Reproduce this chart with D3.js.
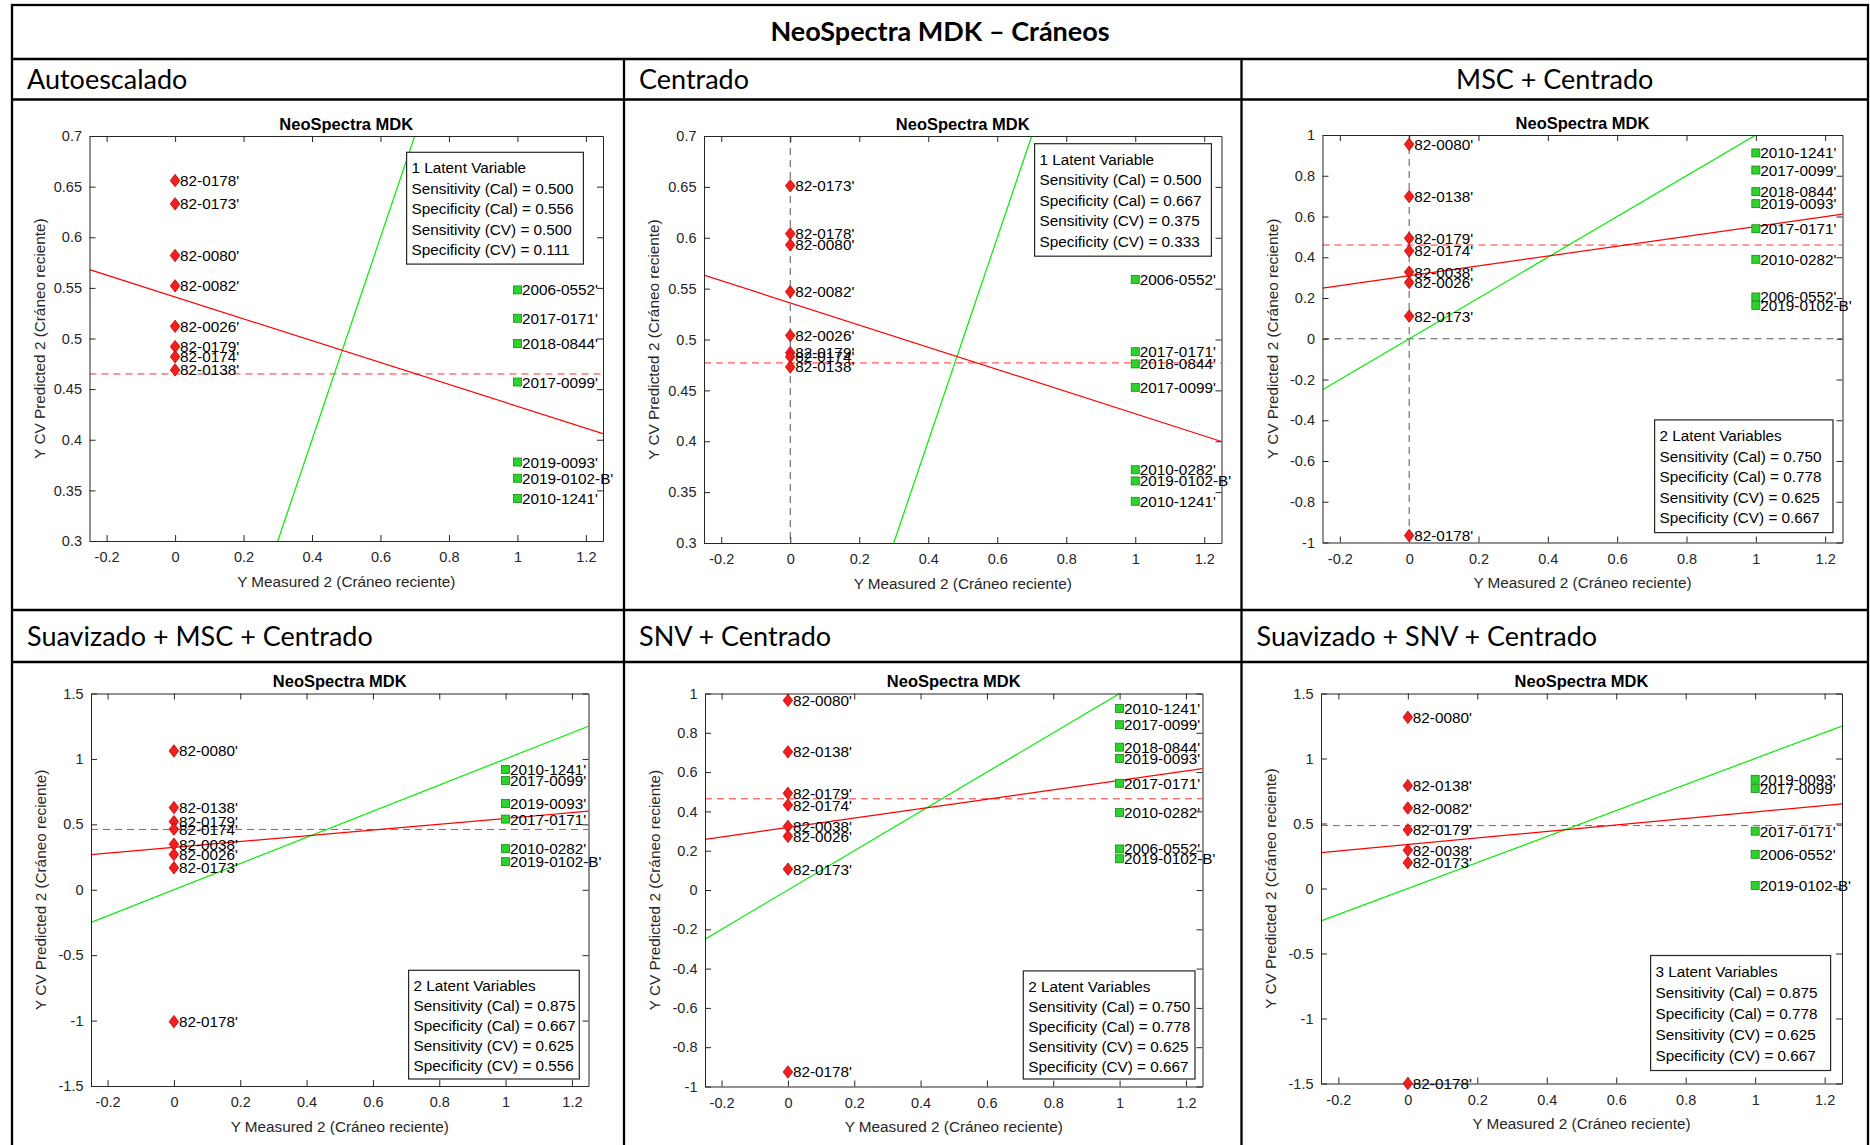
<!DOCTYPE html>
<html>
<head>
<meta charset="utf-8">
<title>NeoSpectra MDK – Cráneos</title>
<script src="https://cdn.jsdelivr.net/npm/d3@7"></script>
<style>
    body { margin: 0; background: #fff; }
    svg { display: block; }
</style>
</head>
<body>
<div id="chart"></div>
<script>

    // ---- data ----
    var mainTitle = "NeoSpectra MDK – Cráneos";
    var plotTitle = "NeoSpectra MDK";
    var panelNames = ["Autoescalado", "Centrado", "MSC + Centrado",
        "Suavizado + MSC + Centrado", "SNV + Centrado", "Suavizado + SNV + Centrado"];
    var xLabel = "Y Measured 2 (Cráneo reciente)";
    var yLabel = "Y CV Predicted 2 (Cráneo reciente)";

    var latentVars = ["1 Latent Variable", "1 Latent Variable", "2 Latent Variables",
        "2 Latent Variables", "2 Latent Variables", "3 Latent Variables"];
    var sensCal = ["0.500", "0.500", "0.750", "0.875", "0.750", "0.875"];
    var specCal = ["0.556", "0.667", "0.778", "0.667", "0.778", "0.778"];
    var sensCV  = ["0.500", "0.375", "0.625", "0.625", "0.625", "0.625"];
    var specCV  = ["0.111", "0.333", "0.667", "0.556", "0.667", "0.667"];

    // red fit line (predicted = intercept + slope * measured) and the dashed threshold
    var fitIntercept = [0.541, 0.536, 0.309, 0.324, 0.318, 0.339];
    var fitSlope     = [-0.108, -0.109, 0.242, 0.221, 0.240, 0.250];
    var threshold    = [0.465, 0.477, 0.460, 0.461, 0.464, 0.484];

    var xDomain = [-0.25, 1.25];
    var xTicks = [-0.2, 0, 0.2, 0.4, 0.6, 0.8, 1, 1.2];
    var yDomains = [[0.3, 0.7], [0.3, 0.7], [-1, 1], [-1.5, 1.5], [-1, 1], [-1.5, 1.5]];
    var yTicks = [
        [0.3, 0.35, 0.4, 0.45, 0.5, 0.55, 0.6, 0.65, 0.7],
        [0.3, 0.35, 0.4, 0.45, 0.5, 0.55, 0.6, 0.65, 0.7],
        [-1, -0.8, -0.6, -0.4, -0.2, 0, 0.2, 0.4, 0.6, 0.8, 1],
        [-1.5, -1, -0.5, 0, 0.5, 1, 1.5],
        [-1, -0.8, -0.6, -0.4, -0.2, 0, 0.2, 0.4, 0.6, 0.8, 1],
        [-1.5, -1, -0.5, 0, 0.5, 1, 1.5]
    ];

    // samples measured 0 (red diamonds) and measured 1 (green squares): [label, predicted]
    var autoOld = [["82-0178'", 0.656], ["82-0173'", 0.633], ["82-0080'", 0.582], ["82-0082'", 0.552],
        ["82-0026'", 0.512], ["82-0179'", 0.492], ["82-0174'", 0.482], ["82-0138'", 0.469]];
    var autoNew = [["2006-0552'", 0.548], ["2017-0171'", 0.520], ["2018-0844'", 0.495], ["2017-0099'", 0.457],
        ["2019-0093'", 0.378], ["2019-0102-B'", 0.362], ["2010-1241'", 0.342]];

    var centOld = [["82-0173'", 0.651], ["82-0178'", 0.604], ["82-0080'", 0.593], ["82-0082'", 0.547],
        ["82-0026'", 0.504], ["82-0179'", 0.487], ["82-0174'", 0.483], ["82-0138'", 0.473]];
    var centNew = [["2006-0552'", 0.559], ["2017-0171'", 0.488], ["2018-0844'", 0.476], ["2017-0099'", 0.453],
        ["2010-0282'", 0.372], ["2019-0102-B'", 0.361], ["2010-1241'", 0.341]];

    var mscOld = [["82-0080'", 0.954], ["82-0138'", 0.698], ["82-0179'", 0.493], ["82-0174'", 0.431],
        ["82-0038'", 0.327], ["82-0026'", 0.276], ["82-0173'", 0.111], ["82-0178'", -0.966]];
    var mscNew = [["2010-1241'", 0.912], ["2017-0099'", 0.828], ["2018-0844'", 0.722], ["2019-0093'", 0.663],
        ["2017-0171'", 0.540], ["2010-0282'", 0.390], ["2006-0552'", 0.205], ["2019-0102-B'", 0.164]];

    var smscOld = [["82-0080'", 1.061], ["82-0138'", 0.628], ["82-0179'", 0.521], ["82-0174'", 0.463],
        ["82-0038'", 0.348], ["82-0026'", 0.269], ["82-0173'", 0.168], ["82-0178'", -1.008]];
    var smscNew = [["2010-1241'", 0.920], ["2017-0099'", 0.835], ["2019-0093'", 0.660], ["2017-0171'", 0.540],
        ["2010-0282'", 0.314], ["2019-0102-B'", 0.215]];

    var snvOld = [["82-0080'", 0.965], ["82-0138'", 0.703], ["82-0179'", 0.492], ["82-0174'", 0.432],
        ["82-0038'", 0.324], ["82-0026'", 0.273], ["82-0173'", 0.106], ["82-0178'", -0.926]];
    var snvNew = [["2010-1241'", 0.924], ["2017-0099'", 0.841], ["2018-0844'", 0.727], ["2019-0093'", 0.669],
        ["2017-0171'", 0.543], ["2010-0282'", 0.395], ["2006-0552'", 0.209], ["2019-0102-B'", 0.159]];

    var ssnvOld = [["82-0080'", 1.317], ["82-0138'", 0.791], ["82-0082'", 0.619], ["82-0179'", 0.451],
        ["82-0038'", 0.295], ["82-0173'", 0.198], ["82-0178'", -1.50]];
    var ssnvNew = [["2019-0093'", 0.840], ["2017-0099'", 0.770], ["2017-0171'", 0.441], ["2006-0552'", 0.263],
        ["2019-0102-B'", 0.023]];

    var oldSets = [autoOld, centOld, mscOld, smscOld, snvOld, ssnvOld];
    var newSets = [autoNew, centNew, mscNew, smscNew, snvNew, ssnvNew];

    // ---- layout ----
    var W = 1870, H = 1145;
    var AXFONT = "'Liberation Sans', Arial, Helvetica, sans-serif";
    var DOCFONT = "Lato, 'Open Sans', sans-serif";

    var colEdges = [12, 624, 1241.5, 1868];
    var headerRows = [[59, 99.5], [610, 662]];
    var headerAlign = ["start", "start", "middle", "start", "start", "start"];

    var plotBox = [
        {x0: 89.5, x1: 603,    y0: 136,   y1: 541},
        {x0: 704,  x1: 1221.5, y0: 136,   y1: 543},
        {x0: 1322.5, x1: 1842.5, y0: 135, y1: 542.5},
        {x0: 91,   x1: 588.5,  y0: 693.5, y1: 1086},
        {x0: 705,  x1: 1202.5, y0: 693.5, y1: 1086.5},
        {x0: 1321, x1: 1842,   y0: 693.5, y1: 1083.5}
    ];
    var legendBox = [
        {x: 406.6,  y: 152.3, w: 176.8, h: 111.8, step: 20.5},
        {x: 1034.6, y: 143.7, w: 176.8, h: 112.5, step: 20.5},
        {x: 1654.6, y: 419.9, w: 178.4, h: 112.7, step: 20.6},
        {x: 408.6,  y: 970.3, w: 170.7, h: 108.7, step: 19.9},
        {x: 1023.3, y: 970.9, w: 171.7, h: 108.1, step: 20},
        {x: 1650.6, y: 955.5, w: 180,   h: 115,   step: 21}
    ];
    var zeroX = [false, true, true, false, false, false];
    var zeroY = [false, false, true, false, false, false];

    var svg = d3.select("#chart").append("svg")
        .attr("width", W)
        .attr("height", H);

    svg.append("rect").attr("width", W).attr("height", H).attr("fill", "#fff");

    // document table
    var grid = svg.append("g").attr("stroke", "#000").attr("stroke-width", 2.3).attr("fill", "none");
    grid.append("rect").attr("x", 12).attr("y", 5).attr("width", 1856).attr("height", 1300);
    [59, 99.5, 610, 662].forEach(function (yy) {
        grid.append("line").attr("x1", 12).attr("x2", 1868).attr("y1", yy).attr("y2", yy);
    });
    [624, 1241.5].forEach(function (xx) {
        grid.append("line").attr("x1", xx).attr("x2", xx).attr("y1", 59).attr("y2", H + 10);
    });

    svg.append("text")
        .attr("x", 940).attr("y", 41)
        .attr("text-anchor", "middle")
        .attr("font-family", DOCFONT).attr("font-weight", "bold").attr("font-size", 27)
        .attr("fill", "#000")
        .text(mainTitle);

    panelNames.forEach(function (name, i) {
        var col = i % 3, row = Math.floor(i / 3);
        var cx0 = colEdges[col], cx1 = colEdges[col + 1];
        var rr = headerRows[row];
        var anchor = headerAlign[i];
        svg.append("text")
            .attr("x", anchor === "middle" ? (cx0 + cx1) / 2 : cx0 + 15)
            .attr("y", (rr[0] + rr[1]) / 2 + 9.5)
            .attr("text-anchor", anchor)
            .attr("font-family", DOCFONT).attr("font-size", 27)
            .attr("fill", "#000")
            .text(name);
    });

    var fmt = function (d) { return String(d); };

    function diamond(w, h) {
        return "M0," + (-h) + "L" + w + ",0L0," + h + "L" + (-w) + ",0Z";
    }

    plotBox.forEach(function (b, i) {
        var x = d3.scaleLinear().domain(xDomain).range([b.x0, b.x1]);
        var y = d3.scaleLinear().domain(yDomains[i]).range([b.y1, b.y0]);
        var g = svg.append("g");

        g.append("rect").attr("x", b.x0).attr("y", b.y0)
            .attr("width", b.x1 - b.x0).attr("height", b.y1 - b.y0).attr("fill", "#fff");

        var clipId = "clip" + i;
        g.append("clipPath").attr("id", clipId).append("rect")
            .attr("x", b.x0).attr("y", b.y0).attr("width", b.x1 - b.x0).attr("height", b.y1 - b.y0);
        var inner = g.append("g").attr("clip-path", "url(#" + clipId + ")");

        // zero reference lines
        if (zeroX[i]) {
            inner.append("line").attr("x1", x(0)).attr("x2", x(0)).attr("y1", b.y0).attr("y2", b.y1)
                .attr("stroke", "#555").attr("stroke-width", 1).attr("stroke-dasharray", "7,5");
        }
        if (zeroY[i]) {
            inner.append("line").attr("x1", b.x0).attr("x2", b.x1).attr("y1", y(0)).attr("y2", y(0))
                .attr("stroke", "#555").attr("stroke-width", 1).attr("stroke-dasharray", "7,5");
        }

        // threshold
        inner.append("line").attr("x1", b.x0).attr("x2", b.x1)
            .attr("y1", y(threshold[i])).attr("y2", y(threshold[i]))
            .attr("stroke", "#ff3030").attr("stroke-width", 1).attr("stroke-dasharray", "7,5");

        // identity line
        inner.append("line")
            .attr("x1", x(xDomain[0])).attr("y1", y(xDomain[0]))
            .attr("x2", x(xDomain[1])).attr("y2", y(xDomain[1]))
            .attr("stroke", "#00ee00").attr("stroke-width", 1.2);

        // fit line
        inner.append("line")
            .attr("x1", x(xDomain[0])).attr("y1", y(fitIntercept[i] + fitSlope[i] * xDomain[0]))
            .attr("x2", x(xDomain[1])).attr("y2", y(fitIntercept[i] + fitSlope[i] * xDomain[1]))
            .attr("stroke", "#ff0000").attr("stroke-width", 1.2);

        // axes (ticks inward, box on)
        var axG = g.append("g").attr("color", "#262626");
        function styleAxis(sel) {
            sel.attr("font-family", AXFONT).attr("font-size", 14.5);
            sel.selectAll("text").attr("fill", "#262626");
        }
        axG.append("g").attr("transform", "translate(0," + b.y1 + ")")
            .call(d3.axisBottom(x).tickValues(xTicks).tickSizeInner(-6).tickSizeOuter(0)
                .tickPadding(11).tickFormat(fmt))
            .call(styleAxis);
        axG.append("g").attr("transform", "translate(0," + b.y0 + ")")
            .call(d3.axisTop(x).tickValues(xTicks).tickSizeInner(-6).tickSizeOuter(0).tickFormat(""));
        axG.append("g").attr("transform", "translate(" + b.x0 + ",0)")
            .call(d3.axisLeft(y).tickValues(yTicks[i]).tickSizeInner(-6).tickSizeOuter(0)
                .tickPadding(7.5).tickFormat(fmt))
            .call(styleAxis);
        axG.append("g").attr("transform", "translate(" + b.x1 + ",0)")
            .call(d3.axisRight(y).tickValues(yTicks[i]).tickSizeInner(-6).tickSizeOuter(0).tickFormat(""));

        // titles
        g.append("text")
            .attr("x", (b.x0 + b.x1) / 2).attr("y", b.y0 - 6.5)
            .attr("text-anchor", "middle")
            .attr("font-family", AXFONT).attr("font-weight", "bold").attr("font-size", 16.5)
            .attr("fill", "#000")
            .text(plotTitle);
        g.append("text")
            .attr("x", (b.x0 + b.x1) / 2).attr("y", b.y1 + 45.5)
            .attr("text-anchor", "middle")
            .attr("font-family", AXFONT).attr("font-size", 15.3)
            .attr("fill", "#262626")
            .text(xLabel);
        g.append("text")
            .attr("transform", "translate(" + (b.x0 - 45) + "," + ((b.y0 + b.y1) / 2) + ") rotate(-90)")
            .attr("text-anchor", "middle")
            .attr("font-family", AXFONT).attr("font-size", 15.3)
            .attr("fill", "#262626")
            .text(yLabel);

        // markers
        var pts = g.append("g");
        pts.selectAll("path.old").data(oldSets[i]).enter().append("path")
            .attr("class", "old")
            .attr("d", diamond(4.8, 6.2))
            .attr("transform", function (d) { return "translate(" + x(0) + "," + y(d[1]) + ")"; })
            .attr("fill", "#f02020").attr("stroke", "#c00000").attr("stroke-width", 0.8);
        pts.selectAll("rect.new").data(newSets[i]).enter().append("rect")
            .attr("class", "new")
            .attr("x", x(1) - 4).attr("y", function (d) { return y(d[1]) - 4; })
            .attr("width", 8).attr("height", 8)
            .attr("fill", "#2ed22e").attr("stroke", "#138a13").attr("stroke-width", 0.8);

        // point labels
        var labs = g.append("g").attr("font-family", AXFONT).attr("font-size", 15.3).attr("fill", "#000");
        labs.selectAll("text.old").data(oldSets[i]).enter().append("text")
            .attr("x", x(0) + 5).attr("y", function (d) { return y(d[1]) + 5.5; })
            .text(function (d) { return d[0]; });
        labs.selectAll("text.new").data(newSets[i]).enter().append("text")
            .attr("x", x(1) + 4.5).attr("y", function (d) { return y(d[1]) + 5.5; })
            .text(function (d) { return d[0]; });

        // info box
        var lb = legendBox[i];
        var lg = g.append("g");
        lg.append("rect").attr("x", lb.x).attr("y", lb.y).attr("width", lb.w).attr("height", lb.h)
            .attr("fill", "#fff").attr("stroke", "#262626").attr("stroke-width", 1.2);
        var lines = [latentVars[i],
            "Sensitivity (Cal) = " + sensCal[i],
            "Specificity (Cal) = " + specCal[i],
            "Sensitivity (CV) = " + sensCV[i],
            "Specificity (CV) = " + specCV[i]];
        lg.selectAll("text").data(lines).enter().append("text")
            .attr("x", lb.x + 5)
            .attr("y", function (d, k) { return lb.y + 15.6 + k * lb.step + 5.5; })
            .attr("font-family", AXFONT).attr("font-size", 15.3).attr("fill", "#000")
            .text(function (d) { return d; });
    });

</script>
</body>
</html>
